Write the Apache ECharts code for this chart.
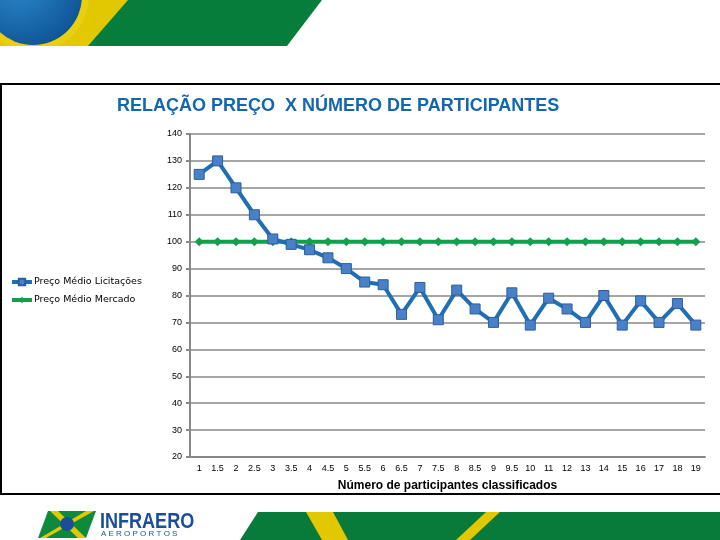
<!DOCTYPE html>
<html>
<head>
<meta charset="utf-8">
<script src="https://cdn.jsdelivr.net/npm/echarts@6/dist/echarts.min.js"></script>
<style>html,body{margin:0;padding:0;background:#fff}#c{width:720px;height:540px}</style>
</head>
<body>
<div id="c"></div>
<script>
const categories = ['1','1.5','2','2.5','3','3.5','4','4.5','5','5.5','6','6.5','7','7.5','8','8.5','9','9.5','10','11','12','13','14','15','16','17','18','19'];
const precoLicitacoes = [125,130,120,110,101,99,97,94,90,85,84,73,83,71,82,75,70,81,69,79,75,70,80,69,78,70,77,69];
const precoMercado = [100,100,100,100,100,100,100,100,100,100,100,100,100,100,100,100,100,100,100,100,100,100,100,100,100,100,100,100];
const yTicks = {min: 20, max: 140, interval: 10};

const chart = echarts.init(document.getElementById('c'));
const font = 'Liberation Sans, Arial, sans-serif';
chart.setOption({
  animation: false,
  backgroundColor: '#fff',
  title: {
    text: 'RELAÇÃO PREÇO  X NÚMERO DE PARTICIPANTES',
    left: 112, top: 92,
    textStyle: {fontFamily: font, fontSize: 18, fontWeight: 'bold', color: '#1466AE'}
  },
  legend: {
    orient: 'vertical', left: 5, top: 272, itemGap: 8, itemWidth: 20, itemHeight: 8,
    textStyle: {fontFamily: 'DejaVu Sans, sans-serif', fontSize: 9.5, color: '#000', padding: [0, 0, 0, -3]},
    data: [
      {name: 'Preço Médio Licitações', lineStyle: {width: 4}},
      {name: 'Preço Médio Mercado', lineStyle: {width: 4}}
    ]
  },
  grid: {left: 190, right: 15, top: 134, bottom: 83},
  xAxis: {
    type: 'category', data: categories, boundaryGap: true,
    name: 'Número de participantes classificados', nameLocation: 'middle', nameGap: 23,
    nameTextStyle: {fontFamily: font, fontSize: 12, fontWeight: 'bold', color: '#000'},
    axisLine: {lineStyle: {color: '#888', width: 2}},
    axisTick: {inside: true, length: 3, lineStyle: {color: '#888', width: 2}},
    axisLabel: {fontFamily: font, fontSize: 9, color: '#000', margin: 7, interval: 0}
  },
  yAxis: {
    type: 'value', min: yTicks.min, max: yTicks.max, interval: yTicks.interval,
    axisLine: {show: true, lineStyle: {color: '#888', width: 2}},
    axisTick: {show: true, length: 4, lineStyle: {color: '#888', width: 2}},
    axisLabel: {fontFamily: font, fontSize: 9, color: '#000', margin: 8},
    splitLine: {lineStyle: {color: '#888', width: 1.5}}
  },
  series: [
    {
      name: 'Preço Médio Licitações', type: 'line', data: precoLicitacoes,
      symbol: 'rect', symbolSize: 10, z: 3,
      lineStyle: {color: '#1F6FB4', width: 4},
      itemStyle: {color: '#4A80C8', borderColor: '#2A5F9E', borderWidth: 1}
    },
    {
      name: 'Preço Médio Mercado', type: 'line', data: precoMercado,
      symbol: 'diamond', symbolSize: 9, z: 2,
      lineStyle: {color: '#12A04B', width: 4},
      itemStyle: {color: '#12A04B'}
    }
  ],
  graphic: [
    {type: 'rect', shape: {x: 1, y: 84, width: 725, height: 410}, style: {fill: 'none', stroke: '#000', lineWidth: 2}, silent: true, z: -1},
    // top banner
    {type: 'polygon', shape: {points: [[0,0],[135,0],[95,46],[0,46]]}, style: {fill: '#E2C800'}, z: -2},
    {type: 'polygon', shape: {points: [[128,0],[322,0],[287,46],[88,46]]}, style: {fill: '#077D3C'}, z: -2},
    {type: 'circle', shape: {cx: 33, cy: -4, r: 56}, style: {fill: '#E8CF10'}, z: -2},
    {type: 'circle', shape: {cx: 33, cy: -4, r: 49}, style: {fill: new echarts.graphic.RadialGradient(0.35, 0.35, 0.8, [{offset: 0, color: '#2C8AD0'}, {offset: 1, color: '#0B4E8E'}])}, z: -2},
    {type: 'rect', shape: {x: 0, y: 46, width: 330, height: 12}, style: {fill: '#fff'}, z: -2},
    // bottom band
    {type: 'polygon', shape: {points: [[258,512],[720,512],[720,540],[240,540]]}, style: {fill: '#087A3A'}, z: -2},
    {type: 'polygon', shape: {points: [[306,512],[333,512],[348,540],[322,540]]}, style: {fill: '#E2C800'}, z: -2},
    {type: 'polygon', shape: {points: [[486,512],[500,512],[470,540],[456,540]]}, style: {fill: '#E2C800'}, z: -2},
    // logo
    {type: 'polygon', shape: {points: [[48,511],[96,511],[86,538],[38,538]]}, style: {fill: '#0D8A3E'}, z: -2},
    {type: 'polygon', shape: {points: [[50,511],[58,511],[86,538],[78,538]]}, style: {fill: '#E2C800'}, z: -2},
    {type: 'polygon', shape: {points: [[86,511],[94,511],[46,538],[40,538]]}, style: {fill: '#E2C800'}, z: -2},
    {type: 'circle', shape: {cx: 67, cy: 524, r: 7}, style: {fill: '#1A4E9A'}, z: -1},
    {type: 'text', x: 100, y: 511, scaleX: 0.82, style: {text: 'INFRAERO', font: 'bold 22px Liberation Sans, sans-serif', fill: '#1A4E9A'}},
    {type: 'text', x: 101, y: 530, style: {text: 'A E R O P O R T O S', font: '8px Liberation Sans, sans-serif', fill: '#1A4E9A'}}
  ]
});
</script>
</body>
</html>
